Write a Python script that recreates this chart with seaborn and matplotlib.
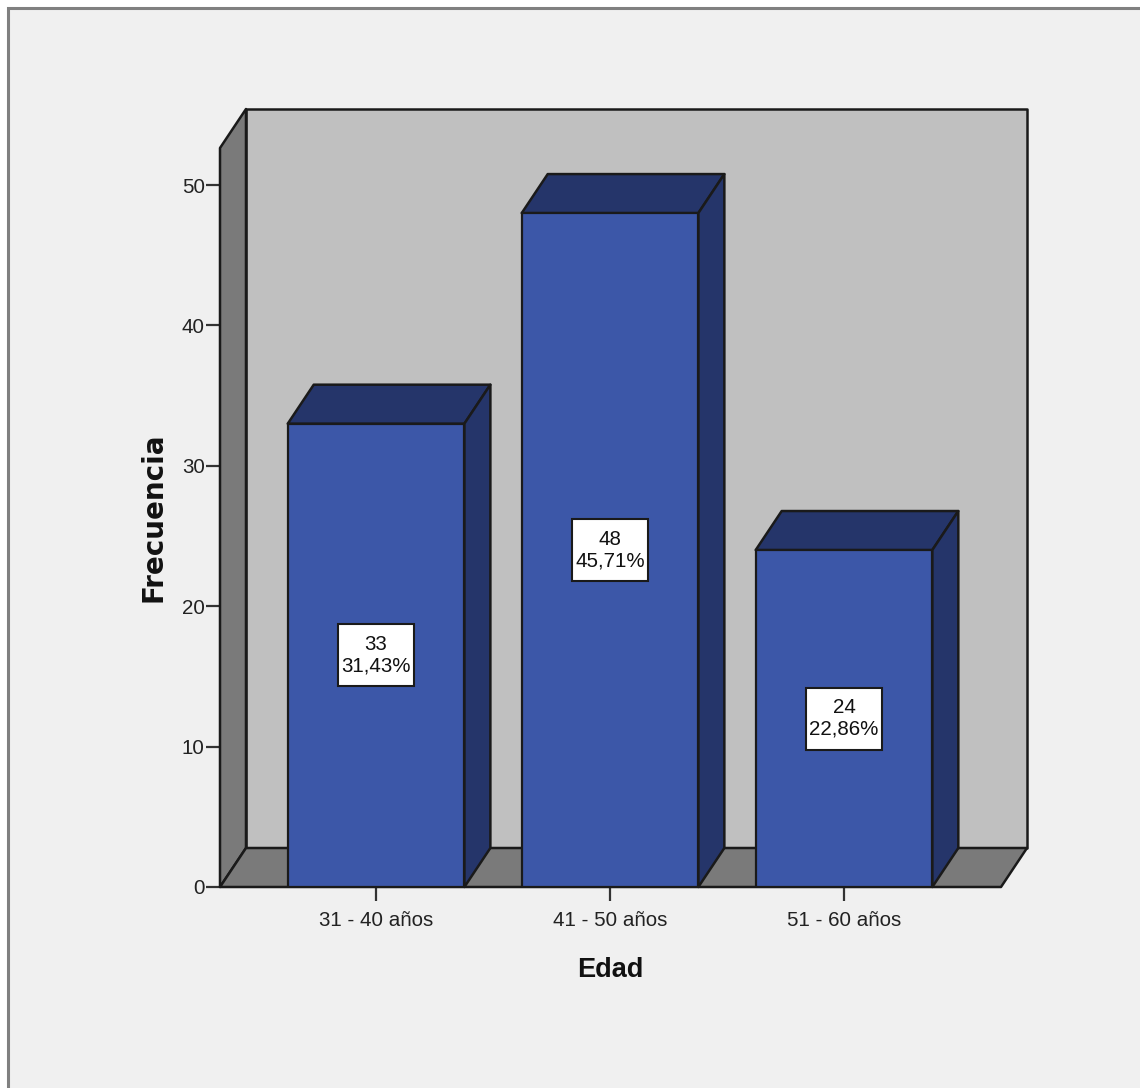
import matplotlib
matplotlib.use("Agg")
import matplotlib.pyplot as plt
from matplotlib.patches import Polygon, Rectangle
import pandas as pd
import seaborn as sns

# Frequency table for the age groups
edades = ["31 - 40 años", "41 - 50 años", "51 - 60 años"]
frecuencias = [33, 48, 24]
porcentajes = ["31,43%", "45,71%", "22,86%"]
y_ticks = [0, 10, 20, 30, 40, 50]

W, H = 1140, 1088
LEFT, RIGHT, BOTTOM, TOP = 220, 1001, 887, 148
PX_PER_UNIT = 14.04
PX_PER_CATEGORY = 234

BLUE, BLUE_DARK = "#3c57a8", "#25356a"
WALL_SIDE, WALL_BACK = "#7a7a7a", "#c0c0c0"
PANEL, FRAME, INK = "#f0f0f0", "#808080", "#1a1a1a"

sns.set_theme(style="white")
plt.rcParams["font.family"] = ["Liberation Sans", "DejaVu Sans"]

fig = plt.figure(figsize=(W / 100, H / 100), dpi=100, facecolor="white")
fig.add_artist(Rectangle((8 / W, -0.01), 1.1, 1.01 - 8 / H + 0.0,
                         transform=fig.transFigure, facecolor=PANEL,
                         edgecolor=FRAME, linewidth=2.2, zorder=-1))

ax = fig.add_axes([LEFT / W, 1 - BOTTOM / H, (RIGHT - LEFT) / W, (BOTTOM - TOP) / H])
ax.patch.set_visible(False)

df = pd.DataFrame({"Edad": edades, "Frecuencia": frecuencias})
sns.barplot(data=df, x="Edad", y="Frecuencia", color=BLUE, saturation=1,
            width=0.755, edgecolor=INK, linewidth=1.6, zorder=5, ax=ax)

ax.set_xlim(-0.667, 2.671)
ax.set_ylim(0, (BOTTOM - TOP) / PX_PER_UNIT)

# Oblique depth of the box, expressed in data units
dx = 26 / PX_PER_CATEGORY
dy = 39 / PX_PER_UNIT
x0, x1 = ax.get_xlim()
y1 = ax.get_ylim()[1]

# Size of the value box shown on each bar, in data units
label_w = 76 / PX_PER_CATEGORY
label_h = 62 / PX_PER_UNIT


def face(points, color, z):
    ax.add_patch(Polygon(points, closed=True, facecolor=color, edgecolor=INK,
                         linewidth=1.8, joinstyle="round", clip_on=False, zorder=z))


# Back wall, side wall and floor of the box
face([(x0 + dx, dy), (x1 + dx, dy), (x1 + dx, y1 + dy), (x0 + dx, y1 + dy)], WALL_BACK, 1)
face([(x0, 0), (x0 + dx, dy), (x0 + dx, y1 + dy), (x0, y1)], WALL_SIDE, 2)
face([(x0, 0), (x1, 0), (x1 + dx, dy), (x0 + dx, dy)], WALL_SIDE, 2)

# Top and side faces of each bar, with the value box in the front face
for i, (bar, n, pct) in enumerate(zip(ax.patches, frecuencias, porcentajes)):
    a, b = bar.get_x(), bar.get_x() + bar.get_width()
    face([(a, n), (b, n), (b + dx, n + dy), (a + dx, n + dy)], BLUE_DARK, 4)
    face([(b, 0), (b + dx, dy), (b + dx, n + dy), (b, n)], BLUE_DARK, 4)
    ax.add_patch(Rectangle((i - label_w / 2, n / 2 - label_h / 2), label_w, label_h,
                           facecolor="white", edgecolor=INK, linewidth=1.5, zorder=6))
    ax.text(i, n / 2, f"{n}\n{pct}", ha="center", va="center", fontsize=14.8,
            linespacing=1.15, color="#111111", zorder=7)

for side in ax.spines.values():
    side.set_visible(False)

ax.set_yticks(y_ticks)
ax.tick_params(axis="both", which="major", left=True, bottom=True, length=10,
               width=1.6, color="#333333", labelsize=14.8, labelcolor="#222222")
ax.tick_params(axis="y", pad=1)
ax.tick_params(axis="x", pad=7)

ax.set_xlabel("")
ax.set_ylabel("")
fig.text(610 / W, 1 - 970 / H, "Edad", ha="center", va="center",
         fontsize=19.5, fontweight="bold", color="#111111")
fig.text(153 / W, 1 - 517 / H, "Frecuencia", ha="center", va="center", rotation=90,
         fontsize=20, fontweight="bold", color="#111111", family="DejaVu Sans")

fig.savefig("out.png", dpi=100, facecolor="white")
